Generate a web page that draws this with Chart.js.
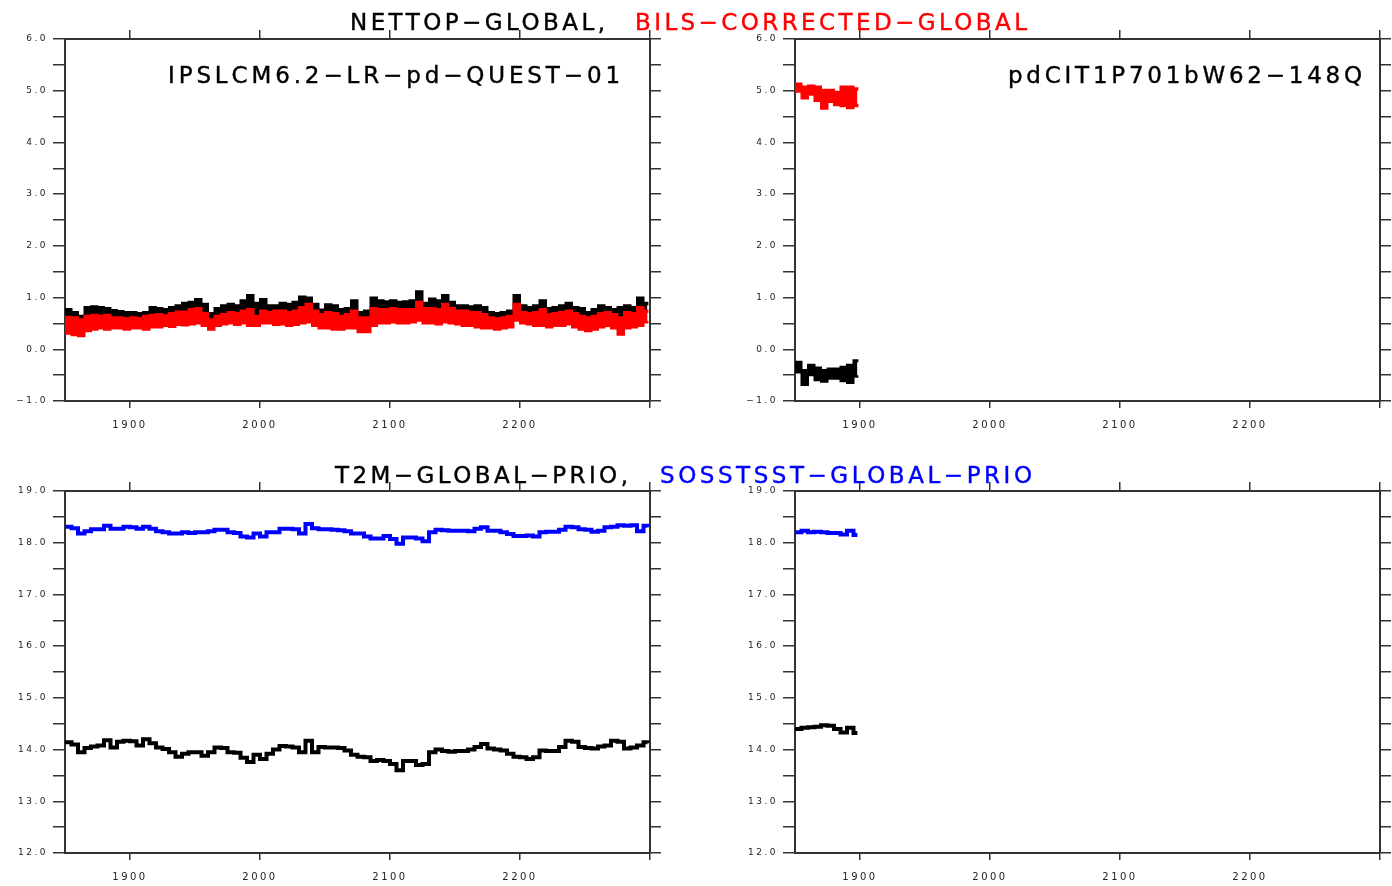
<!DOCTYPE html>
<html>
<head>
<meta charset="utf-8">
<script src="https://cdn.jsdelivr.net/npm/chart.js@4.4.1/dist/chart.umd.min.js"></script>
<style>
  body { margin: 0; background: #fff; width: 1392px; height: 886px; overflow: hidden; position: relative;
         font-family: "DejaVu Sans", "Liberation Sans", Arial, sans-serif; }
  canvas { position: absolute; }
  .t { position: absolute; white-space: nowrap; font-family: "DejaVu Sans", sans-serif;
       font-size: 23px; font-weight: 500; line-height: 1; color: #000; -webkit-text-stroke: 0.4px currentColor; }
</style>
</head>
<body>
<canvas id="netLeft" width="700" height="440" style="left:0;top:0"></canvas>
<canvas id="netRight" width="662" height="440" style="left:730px;top:0"></canvas>
<canvas id="tempLeft" width="700" height="434" style="left:0;top:452px"></canvas>
<canvas id="tempRight" width="662" height="434" style="left:730px;top:452px"></canvas>

<div class="t" data-w="255" style="left:350px;top:11px">NETTOP−GLOBAL,</div>
<div class="t" data-w="392" style="left:635px;top:11px;color:#ff0000">BILS−CORRECTED−GLOBAL</div>
<div class="t" data-w="293" style="left:335px;top:464px">T2M−GLOBAL−PRIO,</div>
<div class="t" data-w="372" style="left:660px;top:464px;color:#0000ff">SOSSTSST−GLOBAL−PRIO</div>
<div class="t" data-w="452" style="left:168px;top:64px">IPSLCM6.2−LR−pd−QUEST−01</div>
<div class="t" data-w="354" style="left:1008px;top:64px">pdCIT1P701bW62−148Q</div>

<script>
// ---- data (5-year blocks, last entry = end of run) ----
const yearsLong = [
  1850, 1855, 1860, 1865, 1870, 1875, 1880, 1885, 1890, 1895,
  1900, 1905, 1910, 1915, 1920, 1925, 1930, 1935, 1940, 1945,
  1950, 1955, 1960, 1965, 1970, 1975, 1980, 1985, 1990, 1995,
  2000, 2005, 2010, 2015, 2020, 2025, 2030, 2035, 2040, 2045,
  2050, 2055, 2060, 2065, 2070, 2075, 2080, 2085, 2090, 2095,
  2100, 2105, 2110, 2115, 2120, 2125, 2130, 2135, 2140, 2145,
  2150, 2155, 2160, 2165, 2170, 2175, 2180, 2185, 2190, 2195,
  2200, 2205, 2210, 2215, 2220, 2225, 2230, 2235, 2240, 2245,
  2250, 2255, 2260, 2265, 2270, 2275, 2280, 2285, 2290, 2295, 2298
];
const yearsShort = [1850, 1855, 1860, 1865, 1870, 1875, 1880, 1885, 1890, 1895, 1898];

// IPSLCM6.2-LR-pd-QUEST-01 : NETTOP (black) upper edge, BILS corrected (red) band
const nettopHi = [
  0.78, 0.72, 0.65, 0.82, 0.83, 0.82, 0.80, 0.76, 0.74, 0.72,
  0.72, 0.70, 0.72, 0.82, 0.80, 0.78, 0.82, 0.85, 0.90, 0.92,
  0.97, 0.88, 0.70, 0.80, 0.85, 0.88, 0.85, 0.95, 1.05, 0.90,
  0.97, 0.85, 0.85, 0.90, 0.88, 0.92, 1.02, 1.00, 0.88, 0.77,
  0.87, 0.85, 0.78, 0.80, 0.95, 0.72, 0.75, 1.00, 0.95, 0.93,
  0.95, 0.92, 0.93, 0.95, 1.12, 0.90, 0.98, 0.95, 1.05, 0.92,
  0.85, 0.85, 0.83, 0.85, 0.82, 0.72, 0.70, 0.72, 0.75, 1.05,
  0.85, 0.82, 0.85, 0.95, 0.80, 0.82, 0.85, 0.90, 0.82, 0.80,
  0.72, 0.78, 0.85, 0.82, 0.78, 0.82, 0.85, 0.82, 1.00, 0.90, 0.85
];
const bilsHi = [
  0.63, 0.62, 0.58, 0.65, 0.67, 0.65, 0.67, 0.62, 0.62, 0.60,
  0.62, 0.60, 0.65, 0.67, 0.68, 0.66, 0.70, 0.73, 0.73, 0.78,
  0.80, 0.70, 0.58, 0.65, 0.68, 0.72, 0.70, 0.75, 0.78, 0.65,
  0.75, 0.72, 0.75, 0.75, 0.72, 0.75, 0.82, 0.88, 0.75, 0.68,
  0.72, 0.70, 0.65, 0.68, 0.75, 0.62, 0.62, 0.80, 0.78, 0.78,
  0.80, 0.78, 0.78, 0.78, 0.92, 0.80, 0.80, 0.78, 0.88, 0.80,
  0.75, 0.75, 0.72, 0.72, 0.68, 0.62, 0.60, 0.62, 0.65, 0.88,
  0.72, 0.70, 0.72, 0.78, 0.68, 0.70, 0.72, 0.75, 0.70, 0.65,
  0.62, 0.65, 0.70, 0.72, 0.68, 0.62, 0.72, 0.70, 0.82, 0.75, 0.70
];
const bilsLo = [
  0.30, 0.27, 0.25, 0.35, 0.38, 0.40, 0.38, 0.40, 0.40, 0.38,
  0.40, 0.40, 0.38, 0.42, 0.42, 0.45, 0.43, 0.47, 0.46, 0.48,
  0.50, 0.45, 0.38, 0.45, 0.48, 0.50, 0.47, 0.50, 0.45, 0.45,
  0.50, 0.50, 0.47, 0.48, 0.45, 0.47, 0.50, 0.52, 0.45, 0.40,
  0.40, 0.38, 0.38, 0.40, 0.40, 0.33, 0.33, 0.45, 0.50, 0.50,
  0.52, 0.50, 0.50, 0.52, 0.55, 0.50, 0.50, 0.48, 0.52, 0.50,
  0.48, 0.45, 0.45, 0.42, 0.40, 0.40, 0.38, 0.40, 0.42, 0.55,
  0.50, 0.48, 0.45, 0.45, 0.42, 0.45, 0.45, 0.48, 0.42, 0.38,
  0.35, 0.38, 0.42, 0.45, 0.40, 0.28, 0.40, 0.42, 0.45, 0.52, 0.55
];

// pdCIT1P701bW62-148Q : short run
const nettopHiShort = [-0.24, -0.40, -0.30, -0.35, -0.40, -0.37, -0.37, -0.34, -0.30, -0.21, -0.25];
const nettopLoShort = [-0.45, -0.69, -0.50, -0.60, -0.63, -0.57, -0.57, -0.62, -0.65, -0.53, -0.50];
const bilsHiShort = [5.14, 5.08, 5.10, 5.08, 5.02, 5.02, 4.98, 5.08, 5.08, 5.05, 5.00];
const bilsLoShort = [4.98, 4.85, 4.92, 4.80, 4.65, 4.78, 4.72, 4.70, 4.66, 4.70, 4.75];

// T2M (black) and SOSSTSST (blue)
const sstLong = [
  18.31, 18.28, 18.18, 18.22, 18.26, 18.26, 18.33, 18.27, 18.27, 18.31,
  18.30, 18.27, 18.31, 18.27, 18.22, 18.20, 18.18, 18.18, 18.20, 18.19,
  18.20, 18.20, 18.22, 18.25, 18.25, 18.20, 18.19, 18.12, 18.10, 18.18,
  18.12, 18.20, 18.20, 18.27, 18.27, 18.26, 18.18, 18.36, 18.28, 18.26,
  18.26, 18.25, 18.24, 18.22, 18.18, 18.18, 18.12, 18.08, 18.08, 18.13,
  18.07, 17.98, 18.10, 18.10, 18.08, 18.03, 18.20, 18.25, 18.24, 18.23,
  18.23, 18.23, 18.22, 18.27, 18.30, 18.23, 18.23, 18.20, 18.17, 18.13,
  18.13, 18.14, 18.12, 18.20, 18.21, 18.21, 18.25, 18.31, 18.30, 18.26,
  18.25, 18.21, 18.23, 18.30, 18.31, 18.34, 18.33, 18.34, 18.22, 18.33, 18.30
];
const t2mLong = [
  14.14, 14.10, 13.95, 14.03, 14.06, 14.08, 14.18, 14.04, 14.15, 14.17,
  14.16, 14.08, 14.20, 14.12, 14.04, 14.01, 13.95, 13.86, 13.92, 13.95,
  13.95, 13.88, 13.95, 14.04, 14.03, 13.95, 13.94, 13.84, 13.76, 13.90,
  13.82, 13.92, 14.00, 14.07, 14.06, 14.04, 13.95, 14.17, 13.95, 14.05,
  14.04, 14.04, 14.03, 13.98, 13.90, 13.86, 13.85, 13.78, 13.80, 13.78,
  13.72, 13.60, 13.78, 13.78, 13.70, 13.72, 13.95, 14.00, 13.97, 13.96,
  13.97, 13.97, 14.00, 14.05, 14.11, 14.02, 14.00, 13.98, 13.92, 13.86,
  13.85, 13.82, 13.85, 13.98, 13.97, 13.97, 14.05, 14.17, 14.15, 14.05,
  14.03, 14.02, 14.06, 14.08, 14.17, 14.15, 14.02, 14.04, 14.08, 14.14, 14.12
];
const sstShort = [18.20, 18.23, 18.20, 18.21, 18.20, 18.19, 18.19, 18.16, 18.23, 18.15, 18.15];
const t2mShort = [14.40, 14.42, 14.43, 14.44, 14.47, 14.46, 14.40, 14.33, 14.42, 14.32, 14.32];

// axes
const xTicks = [1900, 2000, 2100, 2200, 2300];
const xLabels = [1900, 2000, 2100, 2200];
const netTicks = [-1.0, -0.5, 0.0, 0.5, 1.0, 1.5, 2.0, 2.5, 3.0, 3.5, 4.0, 4.5, 5.0, 5.5, 6.0];
const tempTicks = [12.0, 12.5, 13.0, 13.5, 14.0, 14.5, 15.0, 15.5, 16.0, 16.5, 17.0, 17.5, 18.0, 18.5, 19.0];

const RED = '#ff0000', BLUE = '#0000ff', BLACK = '#000000', AXIS = '#333333';

function pts(years, vals) {
  return years.map((x, i) => ({ x: x, y: vals[i] }));
}

function yLabel(v) {
  if (Math.abs(v % 1) > 1e-9) return '';
  return (v < 0 ? '\u2212' : '') + Math.abs(v).toFixed(1);
}

// spaced-out tick font like the original plot
const spacing = {
  id: 'spacing',
  beforeDraw(chart) { chart.ctx.letterSpacing = '2.5px'; }
};

function panel(id, box, yTicks, datasets) {
  const [leftW, rightW, topH, bottomH] = box;
  const grid = { drawOnChartArea: false, color: AXIS, lineWidth: 1.5 };
  const border = { color: AXIS, width: 2 };
  const setTicks = vals => s => { s.ticks = vals.map(v => ({ value: v })); };
  const yMin = yTicks[0], yMax = yTicks[yTicks.length - 1];

  return new Chart(document.getElementById(id), {
    type: 'line',
    data: { datasets: datasets },
    plugins: [spacing],
    options: {
      responsive: false,
      animation: false,
      layout: { padding: 0 },
      plugins: { legend: { display: false }, tooltip: { enabled: false } },
      elements: { point: { radius: 0 }, line: { borderWidth: 2, tension: 0 } },
      scales: {
        x: {
          type: 'linear', position: 'bottom', min: 1850, max: 2300,
          afterBuildTicks: setTicks(xTicks),
          afterFit: s => { s.height = bottomH; },
          grid: Object.assign({ tickLength: 7 }, grid), border: border,
          ticks: { autoSkip: false, maxRotation: 0, padding: 11, color: '#222',
                   font: { family: 'DejaVu Sans', size: 10 },
                   callback: v => xLabels.includes(v) ? String(v) : '' }
        },
        xTop: {
          type: 'linear', position: 'top', min: 1850, max: 2300,
          afterBuildTicks: setTicks(xTicks),
          afterFit: s => { s.height = topH; },
          grid: Object.assign({ tickLength: 9 }, grid), border: border,
          ticks: { autoSkip: false, maxRotation: 0, callback: () => '' }
        },
        y: {
          type: 'linear', position: 'left', min: yMin, max: yMax,
          afterBuildTicks: setTicks(yTicks),
          afterFit: s => { s.width = leftW; },
          grid: Object.assign({ tickLength: 12 }, grid), border: border,
          ticks: { autoSkip: false, padding: 5, color: '#222',
                   font: { family: 'DejaVu Sans', size: 9 },
                   callback: v => yLabel(v) }
        },
        y2: {
          type: 'linear', position: 'right', min: yMin, max: yMax,
          afterBuildTicks: setTicks(yTicks),
          afterFit: s => { s.width = rightW; },
          grid: Object.assign({ tickLength: 11 }, grid), border: border,
          ticks: { autoSkip: false, callback: () => '' }
        }
      }
    }
  });
}

// red band drawn on top of black band (lower index is drawn last)
panel('netLeft', [65, 50, 39, 39], netTicks, [
  { data: pts(yearsLong, bilsHi), borderColor: RED, backgroundColor: RED, stepped: true, fill: '+1' },
  { data: pts(yearsLong, bilsLo), borderColor: RED, stepped: true, fill: false },
  { data: pts(yearsLong, nettopHi), borderColor: BLACK, backgroundColor: BLACK, stepped: true, fill: 1 }
]);

panel('netRight', [65, 12, 39, 39], netTicks, [
  { data: pts(yearsShort, bilsHiShort), borderColor: RED, backgroundColor: RED, stepped: true, fill: '+1' },
  { data: pts(yearsShort, bilsLoShort), borderColor: RED, stepped: true, fill: false },
  { data: pts(yearsShort, nettopHiShort), borderColor: BLACK, backgroundColor: BLACK, stepped: true, fill: '+1' },
  { data: pts(yearsShort, nettopLoShort), borderColor: BLACK, stepped: true, fill: false }
]);

panel('tempLeft', [65, 50, 39, 33], tempTicks, [
  { data: pts(yearsLong, sstLong), borderColor: BLUE, borderWidth: 4, stepped: true, fill: false },
  { data: pts(yearsLong, t2mLong), borderColor: BLACK, borderWidth: 4, stepped: true, fill: false }
]);

panel('tempRight', [65, 12, 39, 33], tempTicks, [
  { data: pts(yearsShort, sstShort), borderColor: BLUE, borderWidth: 4, stepped: true, fill: false },
  { data: pts(yearsShort, t2mShort), borderColor: BLACK, borderWidth: 4, stepped: true, fill: false }
]);

// stretch the titles to the widths they have in the original plot
function fitTitles() {
  document.querySelectorAll('.t').forEach(el => {
    el.style.letterSpacing = '0px';
    const w = el.getBoundingClientRect().width;
    const n = el.textContent.length;
    const ls = (Number(el.dataset.w) - w) / (n - 1);
    el.style.letterSpacing = ls.toFixed(2) + 'px';
  });
}
fitTitles();
document.fonts.ready.then(fitTitles);
</script>
</body>
</html>
